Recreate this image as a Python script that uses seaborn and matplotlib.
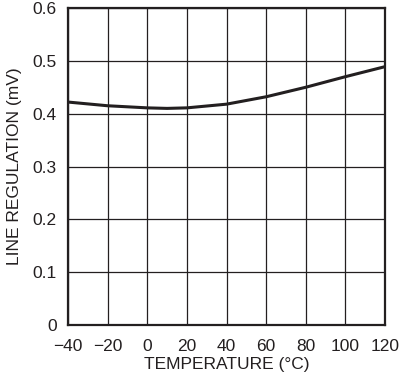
import numpy as np
import pandas as pd
import matplotlib
matplotlib.use("Agg")
import matplotlib.pyplot as plt
import seaborn as sns

# ====================== DATA ======================

temperature     = [-40, -20, 0, 10, 20, 40, 60, 80, 100, 120]
line_regulation = [0.422, 0.415, 0.411, 0.410, 0.411, 0.418, 0.432, 0.450, 0.470, 0.489]

x_ticks = [-40, -20, 0, 20, 40, 60, 80, 100, 120]
x_tick_labels = ["\u221240", "\u221220", "0", "20", "40", "60", "80", "100", "120"]
y_ticks = [0, 0.1, 0.2, 0.3, 0.4, 0.5, 0.6]
y_tick_labels = ["0", "0.1", "0.2", "0.3", "0.4", "0.5", "0.6"]

df = pd.DataFrame({"temp": temperature, "reg": line_regulation})

# ====================== PLOT ======================

sns.set_style("white")
plt.rcParams['font.family'] = ['Liberation Sans Narrow', 'Liberation Sans', 'DejaVu Sans']

fig = plt.figure(figsize=(4.0, 3.78), dpi=100)
ax = fig.add_axes([0.17, 0.1402, 0.7925, 0.8386])

sns.lineplot(data=df, x="temp", y="reg", ax=ax, color="#231f20", linewidth=2.2)

ax.set_xlim(-40, 120)
ax.set_ylim(0, 0.6)
ax.set_xticks(x_ticks)
ax.set_xticklabels(x_tick_labels)
ax.set_yticks(y_ticks)
ax.set_yticklabels(y_tick_labels)
ax.grid(True, color="#231f20", linewidth=0.9)
ax.tick_params(axis="both", length=0, labelsize=12.5, colors="#231f20")
ax.tick_params(axis="x", pad=10)
ax.tick_params(axis="y", pad=8)

for s in ax.spines.values():
    s.set_visible(True)
    s.set_color("#231f20")
    s.set_linewidth(1.6)

ax.set_xlabel("TEMPERATURE (\u00b0C)", fontsize=12.5, color="#231f20", labelpad=2)
ax.set_ylabel("LINE REGULATION (mV)", fontsize=12.5, color="#231f20", labelpad=8)

plt.savefig("out.png", dpi=100)
